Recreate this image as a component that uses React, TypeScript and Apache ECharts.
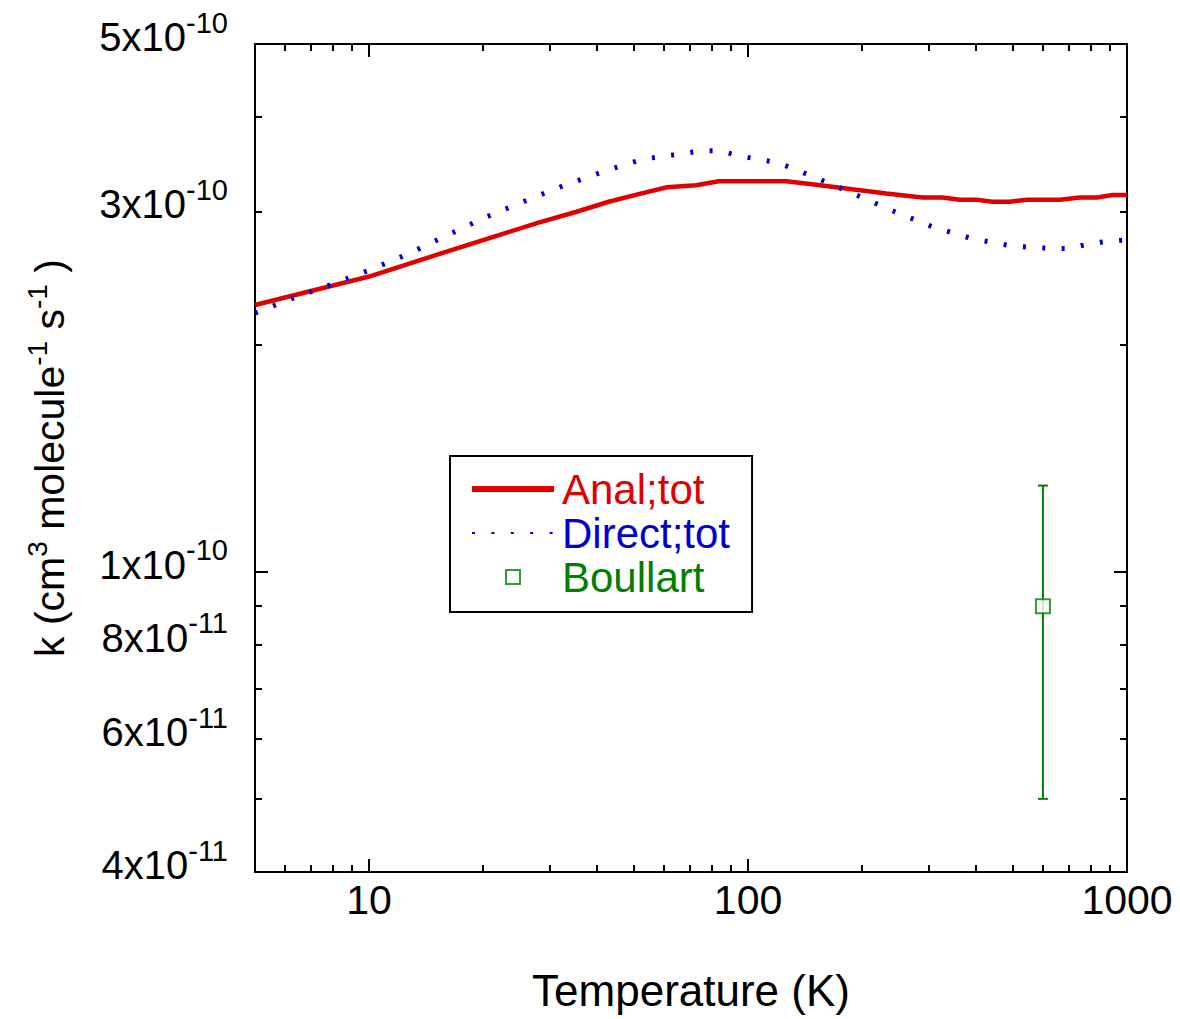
import React, { useEffect, useRef } from "react";
import * as echarts from "echarts";

// ---- data (T in K, k in cm^3 molecule^-1 s^-1) ----
const analT = [5, 10, 15.5, 28, 35.1, 42.9, 52.4, 61.1, 72.9, 83.8, 126, 147.7, 188.4, 231.7, 288.6, 326, 361.5, 401, 442, 490, 544, 665, 751, 833, 918, 1000];
const analK = [2.255e-10, 2.46e-10, 2.64e-10, 2.9e-10, 2.995e-10, 3.09e-10, 3.17e-10, 3.23e-10, 3.25e-10, 3.29e-10, 3.29e-10, 3.26e-10, 3.21e-10, 3.17e-10, 3.13e-10, 3.13e-10, 3.11e-10, 3.11e-10, 3.09e-10, 3.09e-10, 3.11e-10, 3.11e-10, 3.13e-10, 3.13e-10, 3.155e-10, 3.155e-10];

const directT = [5, 6.25, 7.93, 10.06, 12.76, 16.08, 20.4, 25.9, 32.8, 41.6, 52.8, 66.5, 75, 84.3, 94.7, 120, 152.3, 193, 244.8, 308.6, 391, 496, 629, 706, 798, 896, 1000];
const directK = [2.2e-10, 2.3e-10, 2.4e-10, 2.51e-10, 2.64e-10, 2.79e-10, 2.95e-10, 3.1e-10, 3.25e-10, 3.39e-10, 3.52e-10, 3.575e-10, 3.61e-10, 3.61e-10, 3.555e-10, 3.48e-10, 3.32e-10, 3.155e-10, 2.995e-10, 2.86e-10, 2.76e-10, 2.7e-10, 2.68e-10, 2.68e-10, 2.72e-10, 2.74e-10, 2.75e-10];

const boullartT = [600];
const boullartK = [9.0e-11];
const boullartLow = [5.0e-11];
const boullartHigh = [1.3e-10];

const xMin = 5;
const xMax = 1000;
const yMin = 4e-11;
const yMax = 5e-10;
const xMajorTicks = [10, 100, 1000];
const xMinorTicks = [6, 7, 8, 9, 20, 30, 40, 50, 60, 70, 80, 90, 200, 300, 400, 500, 600, 700, 800, 900];
const xTickLabels = [10, 100, 1000];
const yMajorTicks = [1e-10];
const yMinorTicks = [5e-11, 6e-11, 7e-11, 8e-11, 9e-11, 2e-10, 3e-10, 4e-10];
const yTickLabels = [4e-11, 6e-11, 8e-11, 1e-10, 3e-10, 5e-10];

const RED = "#e00000";
const BLUE = "#0000d0";
const GREEN = "#008000";
const FONT = "Arial, 'Liberation Sans', Helvetica, sans-serif";

const lg = (v: number) => Math.log10(v);

function xAxisDef(position: string, ticks: number[], len: number, showLine: boolean, extra: any = {}) {
  return {
    type: "value",
    position,
    min: lg(xMin),
    max: lg(xMax),
    axisLine: { show: showLine, onZero: false, lineStyle: { color: "#000", width: 2 } },
    axisTick: { show: true, inside: true, length: len, customValues: ticks.map(lg), lineStyle: { color: "#000", width: 2 } },
    axisLabel: { show: false },
    splitLine: { show: false },
    ...extra,
  };
}
function yAxisDef(position: string, ticks: number[], len: number, showLine: boolean, extra: any = {}) {
  return {
    type: "value",
    position,
    min: lg(yMin),
    max: lg(yMax),
    axisLine: { show: showLine, onZero: false, lineStyle: { color: "#000", width: 2 } },
    axisTick: { show: true, inside: true, length: len, customValues: ticks.map(lg), lineStyle: { color: "#000", width: 2 } },
    axisLabel: { show: false },
    splitLine: { show: false },
    ...extra,
  };
}

function yLabelFormatter(v: number) {
  const e = Math.floor(v + 1e-9);
  const m = Math.round(Math.pow(10, v - e));
  return `{b|${m}x10}{s|${e}}`;
}

export default function App() {
  const ref = useRef<HTMLDivElement>(null);
  useEffect(() => {
    if (!ref.current) return;
    const chart = echarts.init(ref.current, undefined, { renderer: "svg" });
    const option: any = {
      animation: false,
      backgroundColor: "#fff",
      grid: { left: 255, top: 44, width: 872, height: 828, containLabel: false, outerBoundsMode: "none" },
      xAxis: [
        xAxisDef("bottom", xMajorTicks, 13, true, {
          axisLabel: {
            show: true,
            customValues: xTickLabels.map(lg),
            formatter: (v: number) => String(Math.round(Math.pow(10, v))),
            fontSize: 41,
            color: "#000",
            fontFamily: FONT,
            margin: 7,
          },
          name: "Temperature (K)",
          nameLocation: "middle",
          nameGap: 96,
          nameTextStyle: { fontSize: 44, color: "#000", fontFamily: FONT },
        }),
        xAxisDef("bottom", xMinorTicks, 7, false),
        xAxisDef("top", xMajorTicks, 13, true),
        xAxisDef("top", xMinorTicks, 7, false),
      ],
      yAxis: [
        yAxisDef("left", yMajorTicks, 13, true, {
          axisLabel: {
            show: true,
            customValues: yTickLabels.map(lg),
            formatter: yLabelFormatter,
            margin: 27,
            padding: [0, 0, 14, 0],
            rich: {
              b: { fontSize: 40, lineHeight: 58, color: "#000", fontFamily: FONT },
              s: { fontSize: 29, lineHeight: 29, color: "#000", fontFamily: FONT, verticalAlign: "top" },
            },
          },
          name: "{n|k (cm}{s|3}{n| molecule}{s|-1}{n| s}{s|-1}{n| )}",
          nameLocation: "middle",
          nameGap: 178,
          nameTextStyle: {
            color: "#000",
            fontFamily: FONT,
            fontSize: 41,
            rich: {
              n: { fontSize: 41, lineHeight: 54, color: "#000", fontFamily: FONT },
              s: { fontSize: 28, lineHeight: 28, color: "#000", fontFamily: FONT, verticalAlign: "top" },
            },
          },
        }),
        yAxisDef("left", yMinorTicks, 7, false),
        yAxisDef("right", yMajorTicks, 13, true),
        yAxisDef("right", yMinorTicks, 7, false),
      ],
      legend: {
        orient: "vertical",
        left: 450,
        top: 456,
        data: [
          { name: "Anal;tot", textStyle: { color: RED }, itemStyle: { opacity: 0 }, lineStyle: { width: 6 } },
          { name: "Direct;tot", textStyle: { color: BLUE }, itemStyle: { opacity: 0 } },
          {
            name: "Boullart",
            textStyle: { color: GREEN },
            icon: "path://M0,0M82,14M34,0h14v14h-14z",
            itemStyle: { color: "transparent", borderColor: GREEN, borderWidth: 2 },
          },
        ],
        itemWidth: 82,
        itemHeight: 14,
        itemGap: 0,
        padding: [11, 22, 13, 19],
        borderColor: "#000",
        borderWidth: 2,
        backgroundColor: "#fff",
        selectedMode: false,
        textStyle: { fontSize: 42, fontFamily: FONT, lineHeight: 44, padding: [0, 0, 0, 3] },
      },
      series: [
        {
          name: "Anal;tot",
          type: "line",
          xAxisIndex: 0,
          yAxisIndex: 0,
          symbol: "none",
          lineStyle: { color: RED, width: 4.5 },
          itemStyle: { color: RED },
          data: analT.map((t, i) => [lg(t), lg(analK[i])]),
          z: 3,
        },
        {
          name: "Direct;tot",
          type: "line",
          xAxisIndex: 0,
          yAxisIndex: 0,
          symbol: "none",
          lineStyle: { color: BLUE, width: 5, type: [3, 16.4], cap: "butt" },
          itemStyle: { color: BLUE },
          data: directT.map((t, i) => [lg(t), lg(directK[i])]),
          z: 4,
        },
        {
          name: "Boullart error",
          type: "custom",
          xAxisIndex: 0,
          yAxisIndex: 0,
          silent: true,
          z: 5,
          data: boullartT.map((t, i) => [lg(t), lg(boullartK[i]), lg(boullartLow[i]), lg(boullartHigh[i])]),
          encode: { x: 0, y: [1, 2, 3] },
          renderItem: (params: any, api: any) => {
            const x = api.value(0);
            const lo = api.coord([x, api.value(2)]);
            const hi = api.coord([x, api.value(3)]);
            const cap = 5;
            const style = { stroke: GREEN, lineWidth: 2 };
            return {
              type: "group",
              children: [
                { type: "line", shape: { x1: lo[0], y1: lo[1], x2: hi[0], y2: hi[1] }, style },
                { type: "line", shape: { x1: lo[0] - cap, y1: lo[1], x2: lo[0] + cap, y2: lo[1] }, style },
                { type: "line", shape: { x1: hi[0] - cap, y1: hi[1], x2: hi[0] + cap, y2: hi[1] }, style },
              ],
            };
          },
        },
        {
          name: "Boullart",
          type: "scatter",
          xAxisIndex: 0,
          yAxisIndex: 0,
          symbol: "emptyRect",
          symbolSize: 14,
          itemStyle: { color: GREEN, borderWidth: 2 },
          data: boullartT.map((t, i) => [lg(t), lg(boullartK[i])]),
          z: 6,
        },
      ],
    };
    chart.setOption(option);
    return () => chart.dispose();
  }, []);
  return <div ref={ref} style={{ position: "fixed", left: 0, top: 0, width: 1180, height: 1019, background: "#fff" }} />;
}
